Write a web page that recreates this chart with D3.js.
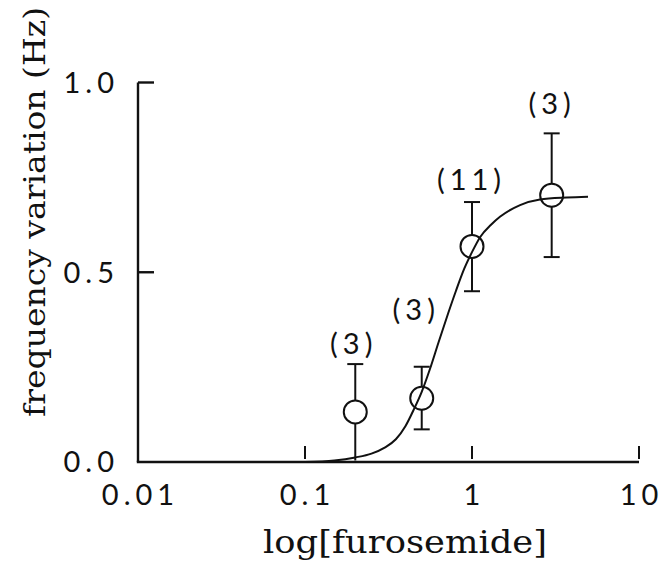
<!DOCTYPE html>
<html>
<head>
<meta charset="utf-8">
<script src="https://cdn.jsdelivr.net/npm/d3@7"></script>
<style>
  html, body { margin: 0; padding: 0; background: #fff; }
  svg { display: block; }
  .num { font-family: "Lato", "Open Sans", sans-serif; font-weight: 400; font-size: 29px; letter-spacing: 5px; fill: #111; }
  .title { font-family: "DejaVu Serif", serif; fill: #111; }
</style>
</head>
<body>
<svg id="chart" width="666" height="571"></svg>
<script>
// Furosemide dose (concentration) vs. frequency variation
const xTickValues = [0.01, 0.1, 1, 10];
const xTickLabels = ["0.01", "0.1", "1", "10"];
const yTickValues = [0, 0.5, 1.0];
const yTickLabels = ["0.0", "0.5", "1.0"];

// measured points: mean with upper / lower error limits, and number of cells
const dose    = [0.2,   0.5,   1,     3];
const meanHz  = [0.132, 0.168, 0.568, 0.703];
const upperHz = [0.258, 0.251, 0.685, 0.866];
const lowerHz = [0.004, 0.086, 0.450, 0.540];
const countLabels = ["(3)", "(3)", "(11)", "(3)"];

// fitted dose-response curve
const fitDose = [0.1, 0.15, 0.2, 0.25, 0.3, 0.35, 0.4, 0.45, 0.5, 0.56, 0.63, 0.72, 0.8, 0.9, 1.0, 1.12, 1.3, 1.47, 1.94, 2.55, 3.69, 4.95];
const fitHz   = [0.0, 0.004, 0.012, 0.022, 0.038, 0.06, 0.095, 0.14, 0.185, 0.245, 0.315, 0.392, 0.45, 0.51, 0.553, 0.593, 0.625, 0.646, 0.677, 0.692, 0.697, 0.699];

const svg = d3.select("#chart");
const ink = "#111";

const x = d3.scaleLog().domain([0.01, 10]).range([138, 639]);
const y = d3.scaleLinear().domain([0, 1]).range([462, 82.5]);

// axes frame
const axisG = svg.append("g").attr("stroke", ink).attr("stroke-width", 2.4).attr("fill", "none");
axisG.append("line").attr("x1", x(0.01)).attr("x2", x(0.01)).attr("y1", y(1)).attr("y2", y(0));
axisG.append("line").attr("x1", x(0.01) - 1.2).attr("x2", x(10)).attr("y1", y(0)).attr("y2", y(0));

// y ticks point inward
axisG.selectAll(".yt").data(yTickValues.filter(v => v > 0)).enter().append("line")
  .attr("x1", x(0.01)).attr("x2", x(0.01) + 16)
  .attr("y1", d => y(d)).attr("y2", d => y(d));

// x ticks point inward
axisG.selectAll(".xt").data(xTickValues.filter(v => v > 0.01)).enter().append("line")
  .attr("stroke-width", 2)
  .attr("x1", d => x(d)).attr("x2", d => x(d))
  .attr("y1", y(0) - 3).attr("y2", y(0) - 16);

// tick labels (dx offsets cancel the trailing letter-spacing)
svg.selectAll(".ylab").data(yTickValues).enter().append("text")
  .attr("class", "num")
  .attr("x", 114).attr("y", d => y(d)).attr("dy", "0.36em").attr("dx", 5)
  .attr("text-anchor", "end")
  .text((d, i) => yTickLabels[i]);

svg.selectAll(".xlab").data(xTickValues).enter().append("text")
  .attr("class", "num")
  .attr("x", d => x(d)).attr("y", 505).attr("dx", 2.5)
  .attr("text-anchor", "middle")
  .text((d, i) => xTickLabels[i]);

// axis titles
svg.append("text").attr("class", "title")
  .attr("x", 405).attr("y", 553)
  .attr("text-anchor", "middle")
  .attr("font-size", 32)
  .attr("textLength", 284).attr("lengthAdjust", "spacingAndGlyphs")
  .text("log[furosemide]");

svg.append("text").attr("class", "title")
  .attr("transform", "translate(45,212) rotate(-90)")
  .attr("text-anchor", "middle")
  .attr("font-size", 29)
  .attr("textLength", 410).attr("lengthAdjust", "spacingAndGlyphs")
  .text("frequency variation (Hz)");

// fitted curve
const line = d3.line()
  .x((d, i) => x(fitDose[i]))
  .y(d => y(d))
  .curve(d3.curveMonotoneX);
svg.append("path")
  .datum(fitHz)
  .attr("d", line)
  .attr("fill", "none").attr("stroke", ink).attr("stroke-width", 2);

// data points with error bars
const r = 11.5, cap = 8;
const pts = dose.map((d, i) => ({ d, m: meanHz[i], hi: upperHz[i], lo: lowerHz[i], n: countLabels[i] }));
const pg = svg.append("g").attr("stroke", ink).attr("stroke-width", 2).attr("fill", "none");
pts.forEach(p => {
  const cx = x(p.d), cy = y(p.m);
  pg.append("line").attr("x1", cx).attr("x2", cx).attr("y1", cy - r).attr("y2", y(p.hi));
  pg.append("line").attr("x1", cx - cap).attr("x2", cx + cap).attr("y1", y(p.hi)).attr("y2", y(p.hi));
  pg.append("line").attr("x1", cx).attr("x2", cx).attr("y1", cy + r).attr("y2", y(p.lo));
  if (p.lo > 0.02) {
    pg.append("line").attr("x1", cx - cap).attr("x2", cx + cap).attr("y1", y(p.lo)).attr("y2", y(p.lo));
  }
  pg.append("circle").attr("cx", cx).attr("cy", cy).attr("r", r);
});

// sample-size labels (offsets from the top of each error bar)
const labelOffset = [[-4, -21], [-8, -57], [-3, -22], [-2, -30]];
svg.selectAll(".cnt").data(pts).enter().append("text")
  .attr("class", "num")
  .attr("x", (p, i) => x(p.d) + labelOffset[i][0])
  .attr("y", (p, i) => y(p.hi) + labelOffset[i][1])
  .attr("dy", "0.36em").attr("dx", 2.5)
  .attr("text-anchor", "middle")
  .text(p => p.n);
</script>
</body>
</html>
